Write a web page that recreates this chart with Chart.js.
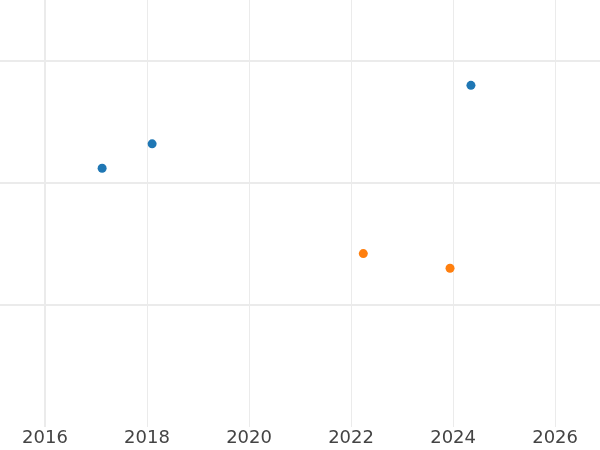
<!DOCTYPE html>
<html>
<head>
<meta charset="utf-8">
<script src="https://cdn.jsdelivr.net/npm/chart.js@4"></script>
<style>
html,body{margin:0;padding:0;background:#fff;}
#wrap{width:600px;height:450px;}
</style>
</head>
<body>
<div id="wrap"><canvas id="c" width="600" height="450"></canvas></div>
<script>
const xTicks = [2016, 2018, 2020, 2022, 2024, 2026];
const yGridValues = [1, 2, 3];
const blueX = [2017.12, 2018.10, 2024.35];
const blueY = [2.12, 2.32, 2.80];
const orangeX = [2022.24, 2023.94];
const orangeY = [1.42, 1.30];

const toPts = (xs, ys) => xs.map((x, i) => ({x: x, y: ys[i]}));

new Chart(document.getElementById('c'), {
  type: 'scatter',
  data: {
    datasets: [
      {data: toPts(blueX, blueY), backgroundColor: '#1f77b4', borderColor: '#1f77b4', pointRadius: 4.5, borderWidth: 0},
      {data: toPts(orangeX, orangeY), backgroundColor: '#ff7f0e', borderColor: '#ff7f0e', pointRadius: 4.5, borderWidth: 0}
    ]
  },
  options: {
    responsive: false,
    animation: false,
    layout: {padding: 0, autoPadding: false},
    plugins: {legend: {display: false}, tooltip: {enabled: false}},
    scales: {
      x: {
        type: 'linear',
        min: 2015.118,
        max: 2026.88,
        afterBuildTicks: s => { s.ticks = xTicks.map(v => ({value: v})); },
        border: {display: false},
        grid: {
          drawTicks: false,
          color: '#ebebeb',
          lineWidth: ctx => (ctx.tick && ctx.tick.value === 2016) ? 2 : 1
        },
        ticks: {
          padding: 5,
          color: '#444',
          font: {family: 'DejaVu Sans', size: 18, lineHeight: 0.74},
          maxRotation: 0,
          callback: v => String(v)
        }
      },
      y: {
        min: 0,
        max: 3.5,
        afterBuildTicks: s => { s.ticks = yGridValues.map(v => ({value: v})); },
        border: {display: false},
        grid: {drawTicks: false, color: '#ebebeb', lineWidth: 2},
        ticks: {display: false}
      }
    }
  }
});
</script>
</body>
</html>
